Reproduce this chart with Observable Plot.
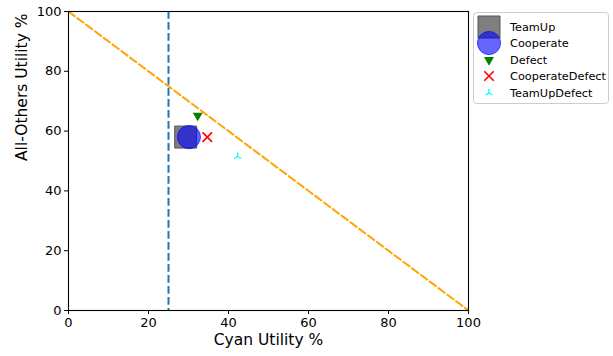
<!DOCTYPE html>
<html><head><meta charset="utf-8">
<script src="https://cdn.jsdelivr.net/npm/d3@7"></script>
<script src="https://cdn.jsdelivr.net/npm/@observablehq/plot@0.6"></script>
<style>
body{margin:0;background:#fff;font-family:"DejaVu Sans",sans-serif;}
#wrap{position:relative;width:613px;height:356px;}
#legend{position:absolute;left:473px;top:12px;overflow:visible;}
</style></head><body>
<div id="wrap"><div id="chart"></div><svg id="legend" width="137" height="92"></svg></div>
<script>
const strategies = ["TeamUp","Cooperate","Defect","CooperateDefect","TeamUpDefect"];
const cyanUtility = [29.3, 30.1, 32.3, 34.7, 42.3];
const othersUtility = [58.0, 58.0, 65.2, 58.0, 51.5];
const xTicks = [0,20,40,60,80,100];
const yTicks = [0,20,40,60,80,100];
const fairLine = [{x:0,y:100},{x:100,y:0}];
const threshold = [25];

const triUp = {draw(ctx, size){ const r = Math.sqrt(size/Math.PI);
  const c = Math.cos(Math.PI/6)*r, s = Math.sin(Math.PI/6)*r;
  ctx.moveTo(0,0); ctx.lineTo(0,-r); ctx.moveTo(0,0); ctx.lineTo(-c,s); ctx.moveTo(0,0); ctx.lineTo(c,s);}};

const styles = {
  TeamUp:{symbol:"square", r:12.4, fill:"#7f7f7f", stroke:"#555", fo:1, so:1, sw:1, rotate:0},
  Cooperate:{symbol:"circle", r:11.6, fill:"blue", stroke:"blue", fo:0.6, so:0.6, sw:1, rotate:0},
  Defect:{symbol:"triangle", r:3.7, fill:"green", stroke:"none", fo:1, so:1, sw:1, rotate:180},
  CooperateDefect:{symbol:"times", r:4.4, fill:"none", stroke:"red", fo:1, so:1, sw:1.6, rotate:0},
  TeamUpDefect:{symbol:triUp, r:4.0, fill:"none", stroke:"cyan", fo:1, so:1, sw:1.3, rotate:0}
};
const data = strategies.map((s,i)=>({name:s, x:cyanUtility[i], y:othersUtility[i]}));

const marks = [
  Plot.ruleX(threshold, {stroke:"#1f77b4", strokeWidth:2, strokeDasharray:"7.7,3.3"}),
  Plot.line(fairLine, {x:"x", y:"y", stroke:"orange", strokeWidth:2, strokeDasharray:"7.7,3.3"}),
];
for (const d of data){
  const st = styles[d.name];
  marks.push(Plot.dot([d], {x:"x", y:"y", symbol:()=>st.symbol, r:st.r, fill:st.fill, stroke:st.stroke,
    fillOpacity:st.fo, strokeOpacity:st.so, strokeWidth:st.sw, rotate:st.rotate}));
}
marks.push(
  Plot.frame({stroke:"black", strokeWidth:1.1}),
  Plot.axisX(xTicks, {tickSize:4, tickPadding:3, fontSize:13, label:null, color:"black"}),
  Plot.axisY(yTicks, {tickSize:4, tickPadding:3, fontSize:13, label:null, color:"black"}),
  Plot.text(["Cyan Utility %"], {frameAnchor:"bottom", dy:34, fontSize:15.5, fill:"black"}),
  Plot.text(["All-Others Utility %"], {frameAnchor:"left", dx:-46, rotate:-90, fontSize:15.5, fill:"black"})
);

const chart = Plot.plot({
  width:613, height:356, marginLeft:68, marginRight:145, marginTop:11, marginBottom:46,
  style:{fontFamily:"DejaVu Sans", background:"white", color:"black"},
  x:{domain:[0,100]}, y:{domain:[0,100]},
  symbol:{type:"identity"},
  marks
});
document.getElementById("chart").appendChild(chart);

// legend
const lg = d3.select("#legend");
lg.append("rect").attr("x",0.5).attr("y",0.5).attr("width",135).attr("height",91).attr("rx",3)
  .attr("fill","white").attr("stroke","#ccc");
const rowY = [15, 31, 48, 64, 81];
const symMap = {square:d3.symbolSquare, circle:d3.symbolCircle, triangle:d3.symbolTriangle, times:d3.symbolTimes};
strategies.forEach((s,i)=>{
  const st = styles[s];
  const sym = typeof st.symbol === "string" ? symMap[st.symbol] : st.symbol;
  lg.append("path").attr("d", d3.symbol(sym, Math.PI*st.r*st.r)())
    .attr("transform", `translate(16,${rowY[i]}) rotate(${st.rotate})`)
    .attr("fill", st.fill).attr("stroke", st.stroke).attr("fill-opacity", st.fo)
    .attr("stroke-opacity", st.so).attr("stroke-width", st.sw);
  lg.append("text").attr("x",37).attr("y",rowY[i]).attr("dy","0.35em")
    .attr("font-size",11.3).attr("font-family","DejaVu Sans").attr("fill","black").text(s);
});
</script></body></html>
